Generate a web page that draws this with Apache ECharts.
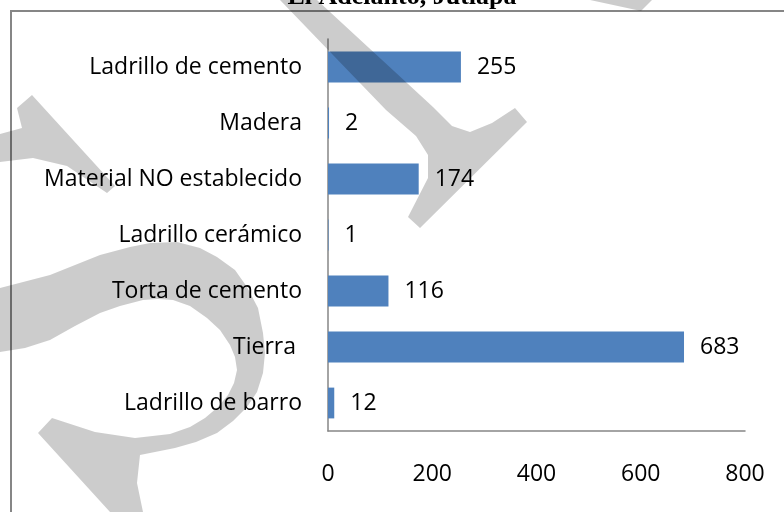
<!DOCTYPE html>
<html>
<head lang="es">
    <meta charset="UTF-8">
    <title></title>
    <script type="text/javascript" src="https://cdn.jsdelivr.net/npm/echarts@6.0.0/dist/echarts.min.js"></script>
</head>
<style>
    *{
        padding: 0;
        margin: 0;
    }
    body{
        background: #fff;
    }
    #main{
        width: 784px;
        height: 512px;
    }
</style>
<body>
<div id="main"></div>
</body>
</html>

<script>
// datos (de arriba hacia abajo)
var titulo = 'El Adelanto, Jutiapa';
var categorias = ['Ladrillo de cemento', 'Madera', 'Material NO establecido', 'Ladrillo cerámico', 'Torta de cemento', 'Tierra ', 'Ladrillo de barro'];
var valores = [255, 2, 174, 1, 116, 683, 12];
var ejeMin = 0;
var ejeMax = 800;
var ejePaso = 200;

var fuente = '"Open Sans", sans-serif';
var gris = '#868686';
var marca = 'rgba(0,0,0,0.2)';

var myChart = echarts.init(document.getElementById('main'));

// marca de agua gris encima del grafico
function mancha(puntos) {
    return {
        type: 'polygon',
        shape: {points: puntos},
        style: {fill: marca},
        z: 100
    };
}

var option = {
    animation: false,
    backgroundColor: '#fff',
    grid: {
        left: 328,
        right: 39,
        top: 39,
        bottom: 81
    },
    xAxis: {
        type: 'value',
        min: ejeMin,
        max: ejeMax,
        interval: ejePaso,
        axisLine: {show: true, lineStyle: {color: gris, width: 1.5}},
        axisTick: {show: false},
        splitLine: {show: false},
        axisLabel: {
            margin: 32,
            color: '#000',
            fontSize: 23,
            fontFamily: fuente
        }
    },
    yAxis: {
        type: 'category',
        inverse: true,
        data: categorias,
        axisLine: {show: true, lineStyle: {color: gris, width: 1.5}},
        axisTick: {show: false},
        axisLabel: {
            margin: 26,
            color: '#000',
            fontSize: 23,
            fontFamily: fuente
        }
    },
    series: [{
        type: 'bar',
        data: valores,
        barWidth: '55%',
        itemStyle: {color: '#4f81bd'},
        label: {
            show: true,
            position: 'right',
            distance: 16,
            color: '#000',
            fontSize: 23,
            fontFamily: fuente
        }
    }],
    graphic: [
        // marco del grafico
        {
            type: 'rect',
            shape: {x: 11, y: 11, width: 800, height: 600},
            style: {fill: 'none', stroke: gris, lineWidth: 2},
            z: 50
        },
        // titulo (cortado arriba)
        {
            type: 'text',
            x: 402,
            y: -3,
            style: {
                text: titulo,
                font: 'bold 26px "Liberation Serif", serif',
                fill: '#000',
                textAlign: 'center',
                textVerticalAlign: 'middle'
            },
            z: 50
        },
        mancha([[280, 0], [317, 0], [433, 107], [452, 126], [470, 132], [492, 123], [515, 108], [527, 122],
                [420, 228], [408, 217], [428, 178], [428, 155], [416, 136], [386, 110]]),
        mancha([[590, 0], [652, 0], [641, 11]]),
        mancha([[17, 108], [32, 95], [115, 186], [107, 193], [67, 166], [33, 158], [0, 162], [0, 134], [22, 128]]),
        mancha([[0, 288], [50, 275], [100, 255], [130, 247], [150, 243], [177, 242], [200, 248], [217, 257],
                [235, 270], [247, 287], [258, 308], [263, 333], [265, 353], [263, 373], [257, 392], [247, 407],
                [233, 421], [217, 433], [196, 442], [175, 448], [140, 455], [137, 483], [143, 512], [110, 512],
                [38, 433], [52, 418], [95, 432], [135, 438], [170, 434], [190, 427], [205, 418], [218, 407],
                [228, 395], [234, 383], [237, 370], [235, 357], [230, 345], [220, 330], [207, 318], [190, 306],
                [173, 300], [158, 299], [143, 300], [120, 306], [100, 313], [75, 326], [50, 340], [25, 348], [0, 352]])
    ]
};

myChart.setOption(option);
</script>
